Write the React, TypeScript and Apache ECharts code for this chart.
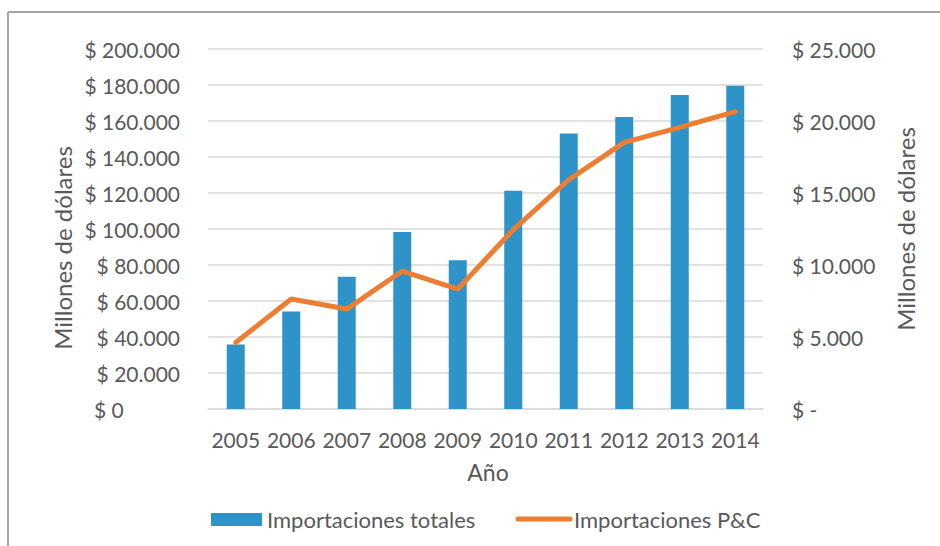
import React, { useEffect, useRef } from "react";
import * as echarts from "echarts";

const years = ["2005", "2006", "2007", "2008", "2009", "2010", "2011", "2012", "2013", "2014"];
const importacionesTotales = [35900, 54200, 73500, 98300, 82600, 121300, 153100, 162200, 174400, 179600];
const importacionesPC = [4620, 7640, 6940, 9580, 8330, 12450, 15920, 18520, 19560, 20650];
const leftTicks = { min: 0, max: 200000, interval: 20000 };
const rightTicks = { min: 0, max: 25000, interval: 5000 };
const seriesNames = ["Importaciones totales", "Importaciones P&C"];

const FONT = "Lato";
const TXT = "#595959";
const BLUE = "#2E93C8";
const ORANGE = "#ED7D31";

function fmt(v: number): string {
  return v.toString().replace(/\B(?=(\d{3})+(?!\d))/g, ".");
}

export default function App() {
  const ref = useRef<HTMLDivElement>(null);
  useEffect(() => {
    if (!ref.current) return;
    const chart = echarts.init(ref.current, null, { renderer: "svg" });
    const txt = (text: string, x: number, y: number, size: number, extra: any = {}) => ({
      type: "text",
      x,
      y,
      ...extra,
      style: { text, fontFamily: FONT, fontSize: size, fill: TXT, align: "center", verticalAlign: "middle", ...(extra.style || {}) },
    });
    chart.setOption({
      animation: false,
      textStyle: { fontFamily: FONT, color: TXT },
      grid: { left: 208, right: 177, top: 49, bottom: 137, containLabel: false },
      xAxis: {
        type: "category",
        data: years,
        axisLine: { lineStyle: { color: "#D9D9D9", width: 1.5 } },
        axisTick: { show: false },
        axisLabel: { color: TXT, fontFamily: FONT, fontSize: 21, margin: 20, interval: 0 },
      },
      yAxis: [
        {
          type: "value",
          min: leftTicks.min,
          max: leftTicks.max,
          interval: leftTicks.interval,
          axisLine: { show: false },
          axisTick: { show: false },
          splitLine: { lineStyle: { color: "#D9D9D9", width: 1.5 } },
          axisLabel: {
            color: TXT,
            fontFamily: FONT,
            fontSize: 21,
            margin: 28,
            formatter: (v: number) => (v === 0 ? "{z|$ 0}" : "$ " + fmt(v)),
            rich: { z: { width: 86, align: "left", fontFamily: FONT, fontSize: 21, color: TXT } },
          },
        },
        {
          type: "value",
          min: rightTicks.min,
          max: rightTicks.max,
          interval: rightTicks.interval,
          axisLine: { show: false },
          axisTick: { show: false },
          splitLine: { show: false },
          axisLabel: {
            color: TXT,
            fontFamily: FONT,
            fontSize: 21,
            margin: 29,
            formatter: (v: number) => (v === 0 ? "$ -" : "$ " + fmt(v)),
          },
        },
      ],
      series: [
        {
          name: seriesNames[0],
          type: "bar",
          data: importacionesTotales,
          barWidth: 18,
          itemStyle: { color: BLUE },
          yAxisIndex: 0,
        },
        {
          name: seriesNames[1],
          type: "line",
          data: importacionesPC,
          yAxisIndex: 1,
          symbol: "none",
          lineStyle: { color: ORANGE, width: 5, cap: "round", join: "round" },
          itemStyle: { color: ORANGE },
        },
      ],
      graphic: [
        { type: "line", shape: { x1: 8, y1: 12, x2: 940, y2: 12 }, style: { stroke: "#A6A6A6", lineWidth: 2 } },
        { type: "line", shape: { x1: 8, y1: 12, x2: 8, y2: 546 }, style: { stroke: "#A6A6A6", lineWidth: 2 } },
        txt("Millones de dólares", 62, 248, 24, { rotation: Math.PI / 2 }),
        txt("Millones de dólares", 905, 229, 24, { rotation: Math.PI / 2 }),
        txt("Año", 488, 472, 23),
        { type: "rect", shape: { x: 211, y: 513, width: 51, height: 13 }, style: { fill: BLUE } },
        txt(seriesNames[0], 267, 519, 22, { style: { align: "left" } }),
        { type: "line", shape: { x1: 518, y1: 519, x2: 570, y2: 519 }, style: { stroke: ORANGE, lineWidth: 5, lineCap: "round" } },
        txt(seriesNames[1], 574, 519, 22, { style: { align: "left" } }),
      ],
    });
    return () => chart.dispose();
  }, []);
  return <div ref={ref} style={{ width: 940, height: 546, position: "absolute", left: 0, top: 0 }} />;
}
